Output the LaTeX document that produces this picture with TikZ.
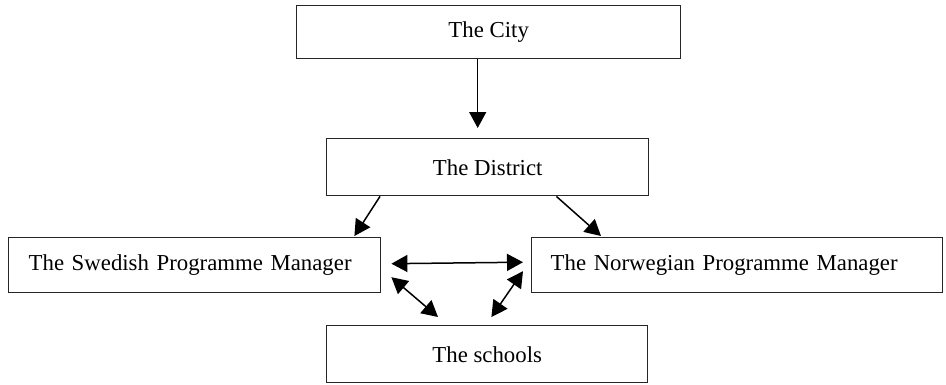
\documentclass[tikz,border=0pt]{standalone}
\usepackage{fontspec}
\setmainfont{Liberation Serif}
\usetikzlibrary{arrows.meta}
\begin{document}
\begin{tikzpicture}[x=1pt,y=-1pt,
  box/.style={draw=black!85, line width=1.4pt, rectangle, inner sep=0pt, font=\fontsize{22.8}{26}\selectfont},
  arr/.style={line width=1.5pt, -{Triangle[length=16pt,width=17pt]}},
  darr/.style={line width=1.5pt, {Triangle[length=16pt,width=17pt]}-{Triangle[length=16pt,width=17pt]}}]
\useasboundingbox (0,0) rectangle (946,384);
\node[box, minimum width=384pt, minimum height=53pt, anchor=north west] (city) at (296,5) {The City};
\node[box, minimum width=322pt, minimum height=57pt, anchor=north west] (district) at (326,138) {The District};
\node[box, minimum width=372pt, minimum height=55pt, anchor=north west, text width=332pt, align=left, inner xsep=20pt] (swe) at (8,237) {The Swedish Programme Manager};
\node[box, minimum width=411pt, minimum height=55pt, anchor=north west, text width=373pt, align=left, inner xsep=19pt] (nor) at (531,237) {The Norwegian Programme Manager\vphantom{y}};
\node[box, minimum width=321pt, minimum height=57pt, anchor=north west] (sch) at (326,325) {The schools};
\draw[arr] ([xshift=-11pt]city.south) -- ([xshift=-10pt,yshift=10pt]district.north);
\draw[arr] ([xshift=54pt]district.south west) -- ([xshift=-27pt,yshift=1pt]swe.north east);
\draw[arr] ([xshift=-93pt]district.south east) -- ([xshift=70pt,yshift=1pt]nor.north west);
\draw[darr] ([xshift=10pt,yshift=1.5pt]swe.east) -- ([xshift=-8pt,yshift=3pt]nor.west);
\draw[darr] ([xshift=10pt,yshift=-12pt]swe.east) -- ([xshift=112pt,yshift=8pt]sch.north west);
\draw[darr] ([xshift=-8pt,yshift=-6pt]nor.west) -- ([xshift=-157pt,yshift=8pt]sch.north east);
\end{tikzpicture}
\end{document}
